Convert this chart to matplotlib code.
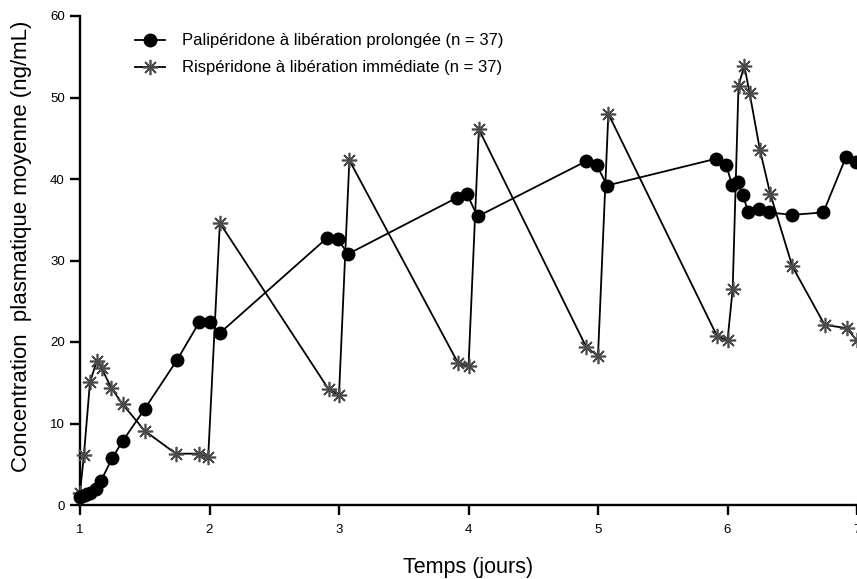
import matplotlib.pyplot as plt

plt.rcParams['font.family'] = ['Liberation Sans', 'DejaVu Sans']

# Palipéridone à libération prolongée (temps en jours, ng/mL)
pali_t = [1.0, 1.04, 1.08, 1.125, 1.16, 1.25, 1.33, 1.5, 1.75, 1.92, 2.0, 2.08,
          2.91, 2.99, 3.07, 3.91, 3.99, 4.07, 4.91, 4.99, 5.07,
          5.915, 5.99, 6.035, 6.08, 6.12, 6.16, 6.24, 6.32, 6.5, 6.74, 6.915, 6.99]
pali_c = [1.0, 1.2, 1.5, 2.0, 2.9, 5.8, 7.85, 11.8, 17.8, 22.4, 22.45, 21.1,
          32.8, 32.6, 30.8, 37.7, 38.1, 35.4, 42.2, 41.7, 39.2,
          42.5, 41.7, 39.3, 39.6, 38.0, 35.9, 36.3, 35.9, 35.6, 35.9, 42.7, 42.1]

# Rispéridone à libération immédiate
risp_t = [1.0, 1.03, 1.077, 1.13, 1.167, 1.24, 1.33, 1.5, 1.74, 1.92, 1.99, 2.08,
          2.92, 3.0, 3.08, 3.92, 4.0, 4.08, 4.91, 5.0, 5.08,
          5.92, 6.0, 6.04, 6.085, 6.13, 6.17, 6.25, 6.33, 6.5, 6.75, 6.92, 7.0]
risp_c = [1.5, 6.1, 15.05, 17.7, 16.8, 14.4, 12.35, 9.1, 6.3, 6.3, 5.9, 34.6,
          14.2, 13.5, 42.3, 17.4, 17.0, 46.1, 19.35, 18.3, 48.0,
          20.7, 20.2, 26.5, 51.45, 53.9, 50.6, 43.6, 38.2, 29.3, 22.1, 21.7, 20.2]

fig = plt.figure(figsize=(8.57, 5.79), dpi=100)
ax = fig.add_axes([80 / 857, 74 / 579, 777 / 857, 489 / 579])

ax.plot(risp_t, risp_c, color='black', lw=1.3, marker=(8, 2, 0), markersize=11,
        markeredgecolor='#4a4a4a', markeredgewidth=1.2, clip_on=False, zorder=3,
        label='Rispéridone à libération immédiate (n = 37)')
ax.plot(pali_t, pali_c, color='black', lw=1.3, marker='o', markersize=9,
        markerfacecolor='black', clip_on=False, zorder=4,
        label='Palipéridone à libération prolongée (n = 37)')

ax.set_xlim(1, 7)
ax.set_ylim(0, 60)
ax.set_xticks(range(1, 8))
ax.set_yticks(range(0, 61, 10))

for s in ['top', 'right']:
    ax.spines[s].set_visible(False)
for s in ['left', 'bottom']:
    ax.spines[s].set_linewidth(1.7)
ax.tick_params(direction='out', length=7, width=1.7, labelsize=9.5, pad=4)
ax.tick_params(axis='x', pad=7)

ax.set_xlabel('Temps (jours)', fontsize=15.5)
ax.xaxis.set_label_coords(0.5, -0.106)
ax.set_ylabel('Concentration  plasmatique moyenne (ng/mL)', fontsize=16)
ax.yaxis.set_label_coords(-0.062, 0.528)

h, l = ax.get_legend_handles_labels()
ax.legend(h[::-1], l[::-1], loc='upper left', bbox_to_anchor=(0.052, 0.995), frameon=False,
          fontsize=12, handlelength=1.8, handletextpad=1.0, labelspacing=0.72)

fig.savefig('out.png', dpi=100)
